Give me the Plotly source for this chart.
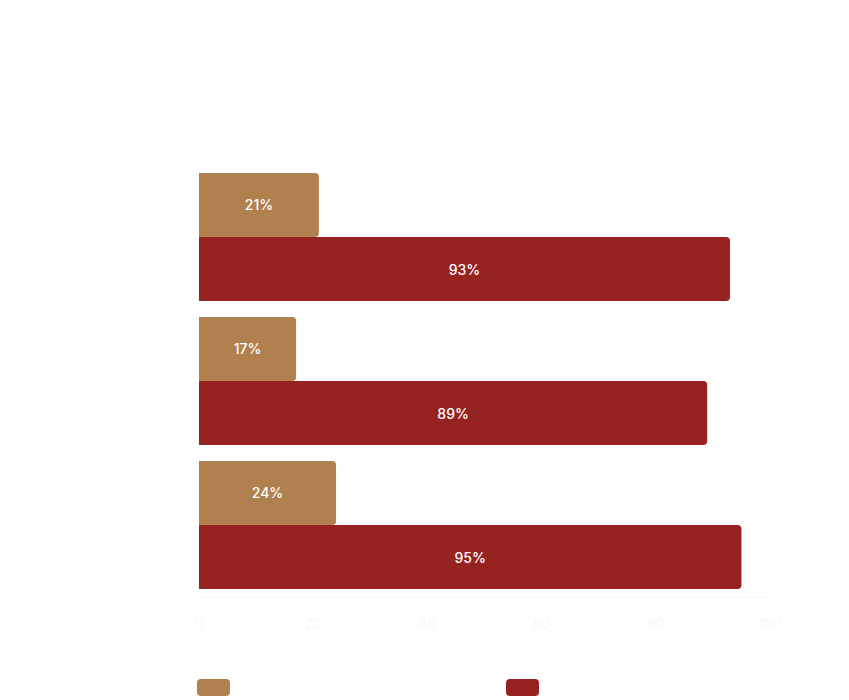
import plotly.graph_objects as go

# Survey groups (labels are not shown on the chart)
groups = ["Group A", "Group B", "Group C"]
series_names = ["Before", "After"]
before_pct = [21, 17, 24]
after_pct = [93, 89, 95]
tick_values = [0, 20, 40, 60, 80, 100]

TAN = "#B0814F"
RED = "#972321"

W, H = 849, 700
M_L, M_R, M_T, M_B = 199, 79, 165, 103
PLOT_W = W - M_L - M_R
PLOT_H = H - M_T - M_B

fig = go.Figure()
for name, vals, col in [(series_names[0], before_pct, TAN), (series_names[1], after_pct, RED)]:
    fig.add_trace(go.Bar(
        y=groups, x=vals, orientation="h", name=name,
        marker=dict(color=col, line=dict(width=0)),
        text=[f"{v}%" for v in vals], textposition="inside",
        insidetextanchor="middle",
        textfont=dict(color="white", size=14, family="Inter", weight=500),
        showlegend=False,
    ))


def px_to_paper(px, py):
    return (px - M_L) / PLOT_W, (H - M_B - py) / PLOT_H


def rounded_rect(x0, y0, x1, y1, r):
    # rounded rectangle path in paper units, built from pixel corners
    def P(x, y):
        a, b = px_to_paper(x, y)
        return f"{a:.5f},{b:.5f}"
    return (f"M {P(x0 + r, y0)} L {P(x1 - r, y0)} Q {P(x1, y0)} {P(x1, y0 + r)} "
            f"L {P(x1, y1 - r)} Q {P(x1, y1)} {P(x1 - r, y1)} "
            f"L {P(x0 + r, y1)} Q {P(x0, y1)} {P(x0, y1 - r)} "
            f"L {P(x0, y0 + r)} Q {P(x0, y0)} {P(x0 + r, y0)} Z")


# legend swatches
shapes = []
for x0, col in [(197, TAN), (506, RED)]:
    shapes.append(dict(type="path", xref="paper", yref="paper",
                       path=rounded_rect(x0, 679, x0 + 33, 696, 4),
                       fillcolor=col, line=dict(width=0)))

fig.update_layout(
    width=W, height=H,
    margin=dict(l=M_L, r=M_R, t=M_T, b=M_B),
    paper_bgcolor="white", plot_bgcolor="white",
    barmode="group", bargap=0.11, bargroupgap=0.0,
    barcornerradius=4,
    shapes=shapes,
    uniformtext=dict(mode="show", minsize=14),
    xaxis=dict(range=[0, 100], tickvals=tick_values,
               showgrid=False, zeroline=False,
               showline=True, linecolor="#f8f8f8", linewidth=1,
               tickfont=dict(color="#f7f7f7", size=14, family="Inter"),
               ticks="", ticklabelstandoff=14, fixedrange=True),
    yaxis=dict(autorange="reversed", showticklabels=False, showgrid=False,
               zeroline=False, showline=False, ticks=""),
    font=dict(family="Inter"),
)

fig.write_html("out.html")
